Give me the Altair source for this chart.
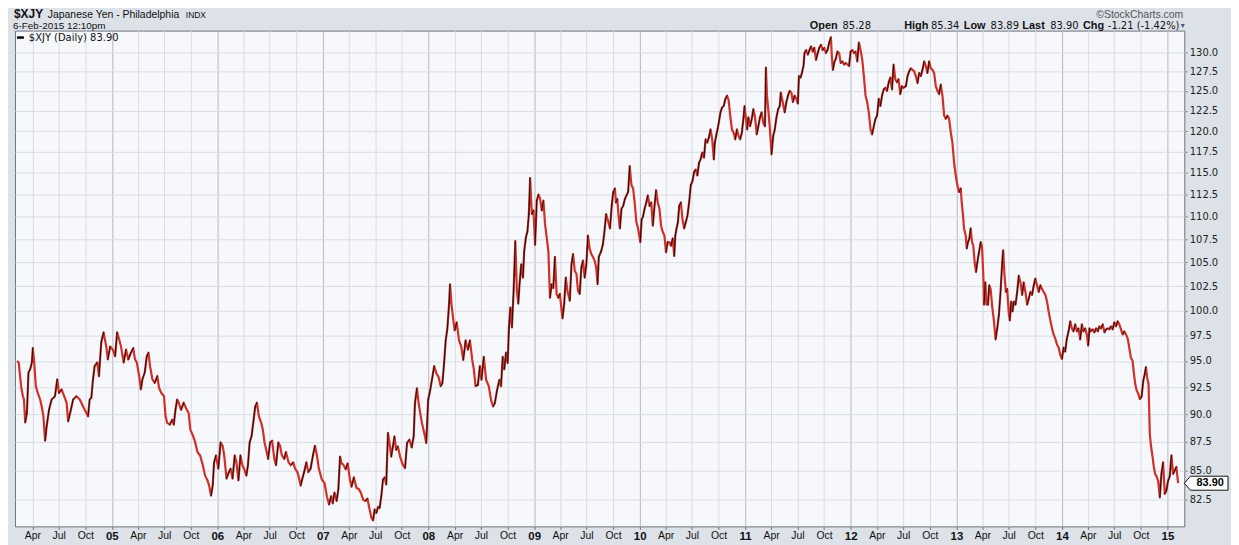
import altair as alt
import numpy as np
import pandas as pd

# ---------------- data (decimal year, close) ----------------
seg_2004_2006 = [
    (2004.103, 95.0), (2004.119, 94.85), (2004.144, 92.45), (2004.159, 91.65), (2004.169, 91.35),
    (2004.181, 89.25), (2004.197, 90.1), (2004.212, 93.9), (2004.228, 94.2), (2004.244, 94.85),
    (2004.253, 96.25), (2004.265, 95.0), (2004.281, 92.6), (2004.300, 91.95), (2004.322, 91.35),
    (2004.337, 90.7), (2004.353, 89.8), (2004.369, 87.6), (2004.384, 88.9), (2004.406, 90.4),
    (2004.431, 91.35), (2004.462, 91.65), (2004.484, 93.25), (2004.500, 91.95), (2004.525, 92.3),
    (2004.550, 91.65), (2004.572, 91.05), (2004.587, 89.35), (2004.609, 90.25), (2004.634, 91.35),
    (2004.665, 91.65), (2004.697, 91.35), (2004.728, 90.7), (2004.759, 90.1), (2004.775, 89.8),
    (2004.790, 91.35), (2004.806, 91.5), (2004.822, 93.25), (2004.837, 94.5), (2004.862, 94.85),
    (2004.878, 93.55), (2004.900, 96.85), (2004.922, 97.8), (2004.947, 96.4), (2004.962, 95.15),
    (2004.984, 96.4), (2005.009, 96.1), (2005.031, 95.45), (2005.050, 97.8), (2005.072, 97.0),
    (2005.087, 96.4), (2005.112, 94.85), (2005.134, 96.1), (2005.156, 95.15), (2005.181, 95.8),
    (2005.203, 96.25), (2005.219, 95.15), (2005.237, 94.85), (2005.259, 93.55), (2005.275, 92.3),
    (2005.290, 93.25), (2005.312, 93.9), (2005.331, 95.45), (2005.347, 95.8), (2005.362, 94.5),
    (2005.384, 93.25), (2005.406, 92.9), (2005.431, 93.55), (2005.447, 92.45), (2005.469, 91.95),
    (2005.494, 91.65), (2005.509, 89.8), (2005.525, 89.2), (2005.550, 89.05), (2005.572, 89.5),
    (2005.587, 89.05), (2005.603, 90.4), (2005.619, 91.35), (2005.634, 91.05), (2005.656, 90.4),
    (2005.681, 91.05), (2005.703, 90.55), (2005.728, 90.1), (2005.744, 88.6), (2005.769, 88.05),
    (2005.790, 87.45), (2005.812, 86.6), (2005.837, 86.3), (2005.862, 85.45), (2005.884, 84.55),
    (2005.906, 84.15), (2005.922, 83.7), (2005.940, 82.85), (2005.956, 83.7), (2005.969, 85.7),
    (2005.987, 86.3), (2006.009, 85.15), (2006.031, 87.45), (2006.050, 87.15), (2006.065, 86.3),
    (2006.087, 84.3), (2006.109, 84.85), (2006.125, 85.15), (2006.144, 84.3), (2006.165, 86.3),
    (2006.181, 85.7), (2006.200, 84.15), (2006.219, 86.3), (2006.237, 85.45), (2006.253, 85.15),
    (2006.275, 84.55), (2006.290, 85.45), (2006.306, 87.45), (2006.325, 88.05), (2006.344, 89.5),
    (2006.359, 90.7), (2006.375, 91.05), (2006.394, 89.8), (2006.416, 89.2), (2006.431, 88.6),
    (2006.447, 87.45), (2006.462, 86.85), (2006.481, 86.0), (2006.500, 87.45), (2006.519, 87.6),
    (2006.540, 86.0), (2006.556, 85.45), (2006.578, 87.45), (2006.594, 87.15), (2006.612, 86.3),
    (2006.634, 86.0), (2006.650, 86.6), (2006.675, 85.7), (2006.697, 85.45), (2006.719, 85.7),
    (2006.737, 85.15), (2006.759, 84.85), (2006.775, 84.3), (2006.790, 83.7), (2006.806, 84.3),
    (2006.822, 84.85), (2006.844, 85.7), (2006.862, 84.85), (2006.884, 85.15), (2006.906, 86.3),
    (2006.925, 87.15), (2006.944, 86.3), (2006.962, 85.15),
]

seg_2007_2009 = [
    (2006.991, 84.2), (2007.016, 83.9), (2007.038, 82.8), (2007.059, 82.1), (2007.078, 82.8),
    (2007.094, 82.2), (2007.110, 83.1), (2007.131, 82.4), (2007.147, 83.4), (2007.163, 86.2),
    (2007.178, 85.6), (2007.194, 85.5), (2007.216, 85.1), (2007.235, 85.6), (2007.257, 84.2),
    (2007.272, 83.6), (2007.294, 84.4), (2007.319, 83.5), (2007.341, 83.4), (2007.360, 83.1),
    (2007.382, 82.5), (2007.404, 82.4), (2007.423, 82.6), (2007.438, 81.9), (2007.460, 81.0),
    (2007.476, 80.8), (2007.491, 81.7), (2007.507, 81.4), (2007.523, 81.9), (2007.538, 81.8),
    (2007.554, 82.8), (2007.570, 84.2), (2007.585, 84.4), (2007.601, 83.8), (2007.617, 88.3),
    (2007.632, 87.4), (2007.648, 86.2), (2007.664, 87.1), (2007.679, 88.0), (2007.695, 86.8),
    (2007.711, 87.1), (2007.732, 86.2), (2007.757, 85.5), (2007.779, 85.2), (2007.798, 87.4),
    (2007.820, 87.7), (2007.842, 87.0), (2007.861, 88.0), (2007.873, 91.0), (2007.892, 92.4),
    (2007.908, 91.0), (2007.923, 90.1), (2007.939, 89.2), (2007.961, 88.3), (2007.980, 87.4),
    (2007.998, 91.3), (2008.017, 92.2), (2008.039, 93.5), (2008.055, 94.5), (2008.077, 93.8),
    (2008.095, 93.5), (2008.117, 92.6), (2008.133, 92.9), (2008.149, 94.8), (2008.164, 97.0),
    (2008.180, 98.2), (2008.196, 100.7), (2008.205, 102.7), (2008.218, 100.7), (2008.233, 99.3),
    (2008.249, 98.0), (2008.268, 98.8), (2008.290, 97.0), (2008.311, 96.4), (2008.330, 95.1),
    (2008.352, 97.0), (2008.374, 96.1), (2008.393, 97.0), (2008.415, 95.1), (2008.430, 94.2),
    (2008.446, 92.6), (2008.468, 92.7), (2008.487, 94.5), (2008.502, 93.2), (2008.524, 95.4),
    (2008.546, 93.2), (2008.571, 92.6), (2008.593, 91.3), (2008.612, 90.7), (2008.628, 91.0),
    (2008.649, 92.2), (2008.671, 93.2), (2008.687, 92.6), (2008.703, 95.4), (2008.718, 94.2),
    (2008.734, 95.8), (2008.750, 94.8), (2008.762, 98.3), (2008.775, 100.3), (2008.790, 98.3),
    (2008.806, 102.0), (2008.822, 107.3), (2008.837, 102.0), (2008.850, 100.7), (2008.862, 102.7),
    (2008.878, 104.8), (2008.894, 103.4), (2008.906, 106.2), (2008.922, 107.7), (2008.937, 108.4),
    (2008.950, 110.3), (2008.962, 114.4), (2008.978, 110.3), (2008.994, 110.7), (2009.009, 106.9),
    (2009.025, 111.8), (2009.041, 112.5), (2009.056, 112.1), (2009.072, 110.7), (2009.088, 111.8),
    (2009.103, 109.2), (2009.119, 107.7), (2009.135, 106.2), (2009.150, 101.3), (2009.166, 102.7),
    (2009.182, 102.3), (2009.197, 105.6), (2009.213, 101.7), (2009.229, 101.3), (2009.244, 101.7),
    (2009.260, 100.0), (2009.269, 99.2), (2009.285, 100.7), (2009.300, 103.4), (2009.316, 102.0),
    (2009.338, 101.0), (2009.354, 104.8), (2009.369, 105.9), (2009.385, 104.1), (2009.401, 103.8),
    (2009.416, 102.0), (2009.432, 101.7), (2009.448, 104.5), (2009.463, 105.2), (2009.479, 103.4),
    (2009.495, 104.8), (2009.510, 107.9), (2009.526, 106.5), (2009.542, 105.9), (2009.557, 105.6),
    (2009.573, 105.2), (2009.588, 104.5), (2009.601, 102.7), (2009.613, 105.6), (2009.635, 106.2),
    (2009.651, 106.9), (2009.667, 108.4), (2009.682, 110.3),
]

seg_2009_2012 = [
    (2009.703, 109.4), (2009.719, 108.7), (2009.735, 111.2), (2009.750, 112.8), (2009.766, 113.2),
    (2009.775, 111.6), (2009.788, 112.0), (2009.800, 110.1), (2009.813, 108.7), (2009.828, 110.9),
    (2009.844, 111.2), (2009.860, 112.0), (2009.875, 112.4), (2009.891, 112.8), (2009.906, 115.8),
    (2009.922, 113.6), (2009.938, 113.2), (2009.953, 111.6), (2009.969, 109.4), (2009.985, 108.7),
    (2010.006, 107.2), (2010.019, 109.7), (2010.031, 110.0), (2010.047, 110.9), (2010.063, 111.6),
    (2010.078, 112.4), (2010.094, 111.2), (2010.110, 111.6), (2010.125, 109.0), (2010.141, 111.2),
    (2010.156, 113.0), (2010.172, 111.6), (2010.188, 110.9), (2010.203, 109.0), (2010.219, 108.3),
    (2010.235, 107.9), (2010.250, 106.1), (2010.266, 107.2), (2010.281, 107.2), (2010.297, 106.8),
    (2010.313, 107.6), (2010.328, 105.7), (2010.338, 107.9), (2010.350, 108.7), (2010.363, 109.4),
    (2010.375, 111.2), (2010.391, 111.6), (2010.406, 109.7), (2010.422, 108.7), (2010.438, 109.4),
    (2010.453, 110.1), (2010.469, 111.6), (2010.485, 113.6), (2010.500, 114.0), (2010.516, 115.1),
    (2010.531, 115.4), (2010.547, 114.7), (2010.563, 116.2), (2010.578, 116.6), (2010.594, 117.4),
    (2010.610, 116.8), (2010.625, 119.0), (2010.641, 118.6), (2010.656, 119.2), (2010.672, 120.2),
    (2010.688, 119.0), (2010.703, 116.6), (2010.713, 118.6), (2010.725, 119.4), (2010.738, 120.2),
    (2010.750, 121.0), (2010.766, 122.3), (2010.781, 122.9), (2010.797, 123.1), (2010.813, 124.0),
    (2010.828, 124.4), (2010.844, 123.8), (2010.860, 121.7), (2010.875, 120.2), (2010.891, 119.8),
    (2010.906, 119.0), (2010.922, 120.2), (2010.938, 119.4), (2010.953, 119.0), (2010.969, 119.8),
    (2010.985, 121.7), (2010.994, 123.1), (2011.006, 121.7), (2011.019, 120.2), (2011.031, 121.7),
    (2011.047, 120.6), (2011.063, 121.5), (2011.078, 122.7), (2011.094, 121.7), (2011.110, 119.6),
    (2011.125, 120.6), (2011.141, 121.7), (2011.156, 122.3), (2011.172, 121.0), (2011.188, 120.6),
    (2011.197, 128.0), (2011.207, 124.4), (2011.219, 122.7), (2011.235, 120.2), (2011.250, 117.2),
    (2011.266, 119.4), (2011.281, 120.2), (2011.297, 121.7), (2011.313, 122.7), (2011.328, 123.1),
    (2011.338, 124.8), (2011.350, 124.0), (2011.363, 123.1), (2011.375, 122.3), (2011.391, 123.6),
    (2011.406, 124.4), (2011.422, 125.0), (2011.438, 124.8), (2011.453, 123.6), (2011.469, 124.4),
    (2011.485, 124.0), (2011.500, 123.4), (2011.510, 126.9), (2011.525, 126.7), (2011.538, 127.3),
    (2011.553, 128.2), (2011.563, 129.9), (2011.578, 130.3), (2011.594, 129.7), (2011.610, 130.3),
    (2011.625, 130.8), (2011.641, 130.1), (2011.656, 130.6), (2011.672, 129.0), (2011.688, 129.9),
    (2011.703, 130.6), (2011.719, 131.0), (2011.735, 130.3), (2011.750, 130.6), (2011.766, 129.9),
    (2011.781, 130.3), (2011.797, 131.3), (2011.813, 132.0), (2011.822, 129.4), (2011.832, 127.7),
    (2011.844, 128.6), (2011.860, 129.2), (2011.875, 130.1), (2011.891, 129.9), (2011.906, 128.6),
    (2011.922, 128.8), (2011.938, 128.4), (2011.953, 128.6), (2011.969, 128.4), (2011.985, 128.2),
    (2012.000, 130.1), (2012.016, 130.3), (2012.031, 129.9), (2012.047, 130.1), (2012.063, 128.8),
    (2012.078, 131.3), (2012.094, 130.3), (2012.110, 129.0), (2012.125, 126.9), (2012.141, 124.4),
    (2012.156, 123.6), (2012.172, 122.3), (2012.188, 120.2), (2012.203, 119.6), (2012.219, 120.6),
    (2012.235, 121.5), (2012.250, 121.9), (2012.266, 124.0), (2012.281, 123.1), (2012.297, 124.4),
    (2012.313, 125.2), (2012.328, 125.4), (2012.344, 125.0), (2012.360, 126.1), (2012.375, 126.7),
    (2012.391, 125.2), (2012.406, 128.4), (2012.422, 126.5), (2012.438, 126.1), (2012.453, 126.5),
    (2012.469, 124.6), (2012.485, 125.6), (2012.500, 125.4),
]

seg_2012_2015 = [
    (2012.522, 125.6), (2012.538, 126.9), (2012.553, 127.5), (2012.569, 127.9), (2012.585, 127.7),
    (2012.601, 127.5), (2012.616, 126.9), (2012.632, 126.0), (2012.648, 127.3), (2012.664, 126.9),
    (2012.679, 127.7), (2012.695, 128.8), (2012.711, 128.2), (2012.726, 127.3), (2012.742, 128.8),
    (2012.758, 127.9), (2012.774, 127.7), (2012.789, 127.3), (2012.805, 125.6), (2012.821, 125.0),
    (2012.836, 124.6), (2012.852, 125.8), (2012.868, 124.4), (2012.884, 121.9), (2012.899, 121.5),
    (2012.915, 121.9), (2012.931, 121.5), (2012.947, 119.8), (2012.962, 118.6), (2012.978, 116.2),
    (2012.994, 114.7), (2013.010, 113.5), (2013.025, 112.8), (2013.041, 113.2), (2013.050, 111.6),
    (2013.063, 110.1), (2013.072, 108.7), (2013.088, 107.9), (2013.098, 106.5), (2013.110, 107.2),
    (2013.123, 107.6), (2013.135, 108.7), (2013.148, 107.2), (2013.160, 106.8), (2013.173, 105.0),
    (2013.186, 104.0), (2013.198, 105.0), (2013.214, 106.1), (2013.230, 107.2), (2013.242, 106.8),
    (2013.255, 103.6), (2013.261, 100.6), (2013.274, 102.9), (2013.286, 100.6), (2013.299, 100.6),
    (2013.311, 102.6), (2013.324, 102.2), (2013.340, 100.3), (2013.355, 99.0), (2013.371, 97.1),
    (2013.387, 98.2), (2013.403, 99.6), (2013.418, 101.9), (2013.434, 105.0), (2013.443, 106.3),
    (2013.456, 103.6), (2013.469, 101.9), (2013.481, 102.2), (2013.497, 99.6), (2013.506, 99.0),
    (2013.519, 100.9), (2013.532, 99.9), (2013.544, 100.9), (2013.560, 100.6), (2013.576, 101.9),
    (2013.591, 103.6), (2013.607, 102.9), (2013.623, 101.6), (2013.638, 102.9), (2013.654, 101.9),
    (2013.670, 100.6), (2013.686, 101.2), (2013.701, 101.9), (2013.717, 101.6), (2013.733, 102.6),
    (2013.748, 103.3), (2013.764, 102.6), (2013.780, 101.9), (2013.796, 102.6), (2013.811, 102.2),
    (2013.827, 101.9), (2013.843, 101.6), (2013.859, 100.9), (2013.874, 99.9), (2013.890, 99.0),
    (2013.906, 98.2), (2013.921, 97.6), (2013.937, 97.2), (2013.953, 96.6), (2013.969, 96.3),
    (2013.984, 95.6), (2014.000, 95.2), (2014.016, 96.3), (2014.031, 95.9), (2014.047, 97.2),
    (2014.063, 97.9), (2014.079, 98.9), (2014.094, 98.2), (2014.110, 97.9), (2014.126, 98.6),
    (2014.142, 97.9), (2014.157, 98.2), (2014.173, 97.1), (2014.189, 98.6), (2014.204, 97.9),
    (2014.220, 98.2), (2014.236, 97.6), (2014.249, 96.5), (2014.261, 98.2), (2014.274, 97.9),
    (2014.292, 98.1), (2014.308, 97.8), (2014.324, 98.2), (2014.340, 97.9), (2014.355, 98.4),
    (2014.371, 98.2), (2014.387, 98.6), (2014.403, 97.8), (2014.418, 98.1), (2014.434, 98.2),
    (2014.450, 98.1), (2014.465, 98.4), (2014.481, 98.1), (2014.497, 98.8), (2014.513, 98.4),
    (2014.528, 98.9), (2014.544, 98.6), (2014.560, 98.1), (2014.575, 97.6), (2014.591, 97.9),
    (2014.607, 97.6), (2014.623, 97.2), (2014.638, 96.3), (2014.654, 95.3), (2014.670, 95.0),
    (2014.682, 93.8), (2014.695, 92.8), (2014.708, 92.2), (2014.723, 91.9), (2014.739, 91.4),
    (2014.755, 91.6), (2014.771, 93.1), (2014.786, 93.8), (2014.796, 94.4), (2014.808, 93.4),
    (2014.821, 92.8), (2014.833, 88.2), (2014.846, 87.0), (2014.859, 86.2), (2014.871, 85.3),
    (2014.884, 84.7), (2014.896, 84.5), (2014.912, 84.1), (2014.928, 82.7), (2014.943, 84.7),
    (2014.959, 85.7), (2014.975, 83.0), (2014.991, 83.3), (2015.006, 84.1), (2015.022, 84.5),
    (2015.038, 86.3), (2015.054, 84.7), (2015.069, 85.0), (2015.085, 85.3), (2015.101, 83.90),
]

y_ticks = [82.5, 85.0, 87.5, 90.0, 92.5, 95.0, 97.5, 100.0, 102.5, 105.0, 107.5, 110.0,
           112.5, 115.0, 117.5, 120.0, 122.5, 125.0, 127.5, 130.0]
x_span = (2004.084, 2015.160)   # visible time range in decimal years
y_span = (80.3, 132.9)          # visible value range

# ---------------- helpers ----------------
def to_ms(y):
    yr = int(np.floor(y))
    start = pd.Timestamp(year=yr, month=1, day=1)
    end = pd.Timestamp(year=yr + 1, month=1, day=1)
    ts = start + (end - start) * (y - yr)
    return int(ts.value // 10**6)

pairs = seg_2004_2006 + seg_2007_2009 + seg_2009_2012 + seg_2012_2015
df = pd.DataFrame({"t": [to_ms(p[0]) for p in pairs], "v": [p[1] for p in pairs]})
seg = pd.DataFrame({"t": df.t.values[:-1], "t2": df.t.values[1:],
                    "v": df.v.values[:-1], "v2": df.v.values[1:]})
up = seg[seg.v2 > seg.v].reset_index(drop=True)
last = df.tail(1).reset_index(drop=True)

qtr_ms = [int(ts.value // 10**6) for ts in pd.date_range("2004-04-01", "2015-01-01", freq="QS")]

FONT = "Liberation Sans"
xscale = alt.Scale(type="utc", domain=[to_ms(x_span[0]), to_ms(x_span[1])], nice=False)
yscale = alt.Scale(type="log", domain=list(y_span), nice=False)

is_jan = "utcmonth(datum.value)==0"
x_axis = alt.Axis(
    values=qtr_ms, title=None, domain=False, grid=True,
    gridColor={"condition": {"test": is_jan, "value": "#b4b8c2"}, "value": "#d9dce4"},
    gridWidth=1, tickSize=3, tickColor="#6a6e78", labelPadding=1,
    labelExpr=f"{is_jan} ? utcFormat(datum.value,'%y') : utcFormat(datum.value,'%b')",
    labelFontWeight={"condition": {"test": is_jan, "value": "bold"}, "value": "normal"},
    labelFontSize={"condition": {"test": is_jan, "value": 11.5}, "value": 10.5},
    labelFont=FONT, labelColor="#111", labelOverlap=False, labelFlush=False,
)
y_axis = alt.Axis(
    orient="right", values=y_ticks, format=".1f", title=None, domain=False, grid=True,
    gridColor="#d9dce4", gridWidth=1, tickSize=3, tickColor="#8a8e98", labelPadding=2,
    labelFont="DejaVu Sans", labelFontSize=10, labelColor="#222",
)

X = alt.X("t:T", scale=xscale, axis=x_axis)
Y = alt.Y("v:Q", scale=yscale, axis=y_axis)

line = alt.Chart(df).mark_line(color="#d12f27", strokeWidth=2.2, strokeJoin="round").encode(x=X, y=Y)
ups = alt.Chart(up).mark_rule(color="#111111", strokeWidth=1.0, strokeCap="round").encode(
    x=X, x2="t2:T", y=Y, y2="v2:Q")

tag_path = "M-1,0L-0.72,-0.32L1,-0.32L1,0.32L-0.72,0.32Z"
tag_box = alt.Chart(last).mark_point(shape=tag_path, size=1936, filled=True, fill="white",
                                     stroke="#111", strokeWidth=1, opacity=1).encode(
    x=alt.value(1199), y=Y)
tag_txt = alt.Chart(last).mark_text(font=FONT, fontSize=11, fontWeight="bold", color="#000",
                                    align="center", baseline="middle").encode(
    x=alt.value(1203), y=Y, text=alt.Text("v:Q", format=".2f"))

one = pd.DataFrame({"a": [0]})

def txt(s, x, y, size=11, weight="normal", color="#111", align="left", font=FONT, baseline="alphabetic"):
    return alt.Chart(one).mark_text(text=s, font=font, fontSize=size, fontWeight=weight, color=color,
                                    align=align, baseline=baseline).encode(
        x=alt.value(x), y=alt.value(y))

texts = [
    txt("$XJY", -1, -12.5, size=12, weight="bold"),
    txt("Japanese Yen - Philadelphia", 33, -12.5, size=10.5),
    txt("INDX", 172, -12.5, size=8.5),
    txt("6-Feb-2015 12:10pm", -2, -1.5, size=10),
    txt("\u00a9StockCharts.com", 1176, -12.5, size=10.5, color="#555", align="right"),
    txt("Open", 800, -2, size=11, weight="bold"),
    txt("85.28", 833, -2, size=10, font="DejaVu Sans"),
    txt("High", 895, -2, size=11, weight="bold"),
    txt("85.34", 922, -2, size=10, font="DejaVu Sans"),
    txt("Low", 955, -2, size=11, weight="bold"),
    txt("83.89", 982, -2, size=10, font="DejaVu Sans"),
    txt("Last", 1014, -2, size=11, weight="bold"),
    txt("83.90", 1042, -2, size=10, font="DejaVu Sans"),
    txt("Chg", 1075, -2, size=11, weight="bold"),
    txt("-1.21 (-1.42%)", 1100, -2, size=10, font="DejaVu Sans"),
    txt("\u25bc", 1172, -3, size=7, color="#3d5a8a"),
    txt("$XJY (Daily) 83.90", 14, 7, size=10, font="DejaVu Sans", baseline="middle"),
]
legend_mark = alt.Chart(one).mark_rule(color="#000", strokeWidth=2.5).encode(
    x=alt.value(2), x2=alt.value(9), y=alt.value(7))

chart = alt.layer(line, ups, tag_box, tag_txt, legend_mark, *texts).properties(
    width=1177, height=499, autosize="none",
    padding={"left": 7, "top": 21, "right": 47, "bottom": 17},
    background="#dde2e9",
).configure_view(fill="#f6f8fc", stroke="#6d727c", strokeWidth=1)

chart.save("out.html", embed_options={"renderer": "svg", "actions": False})
